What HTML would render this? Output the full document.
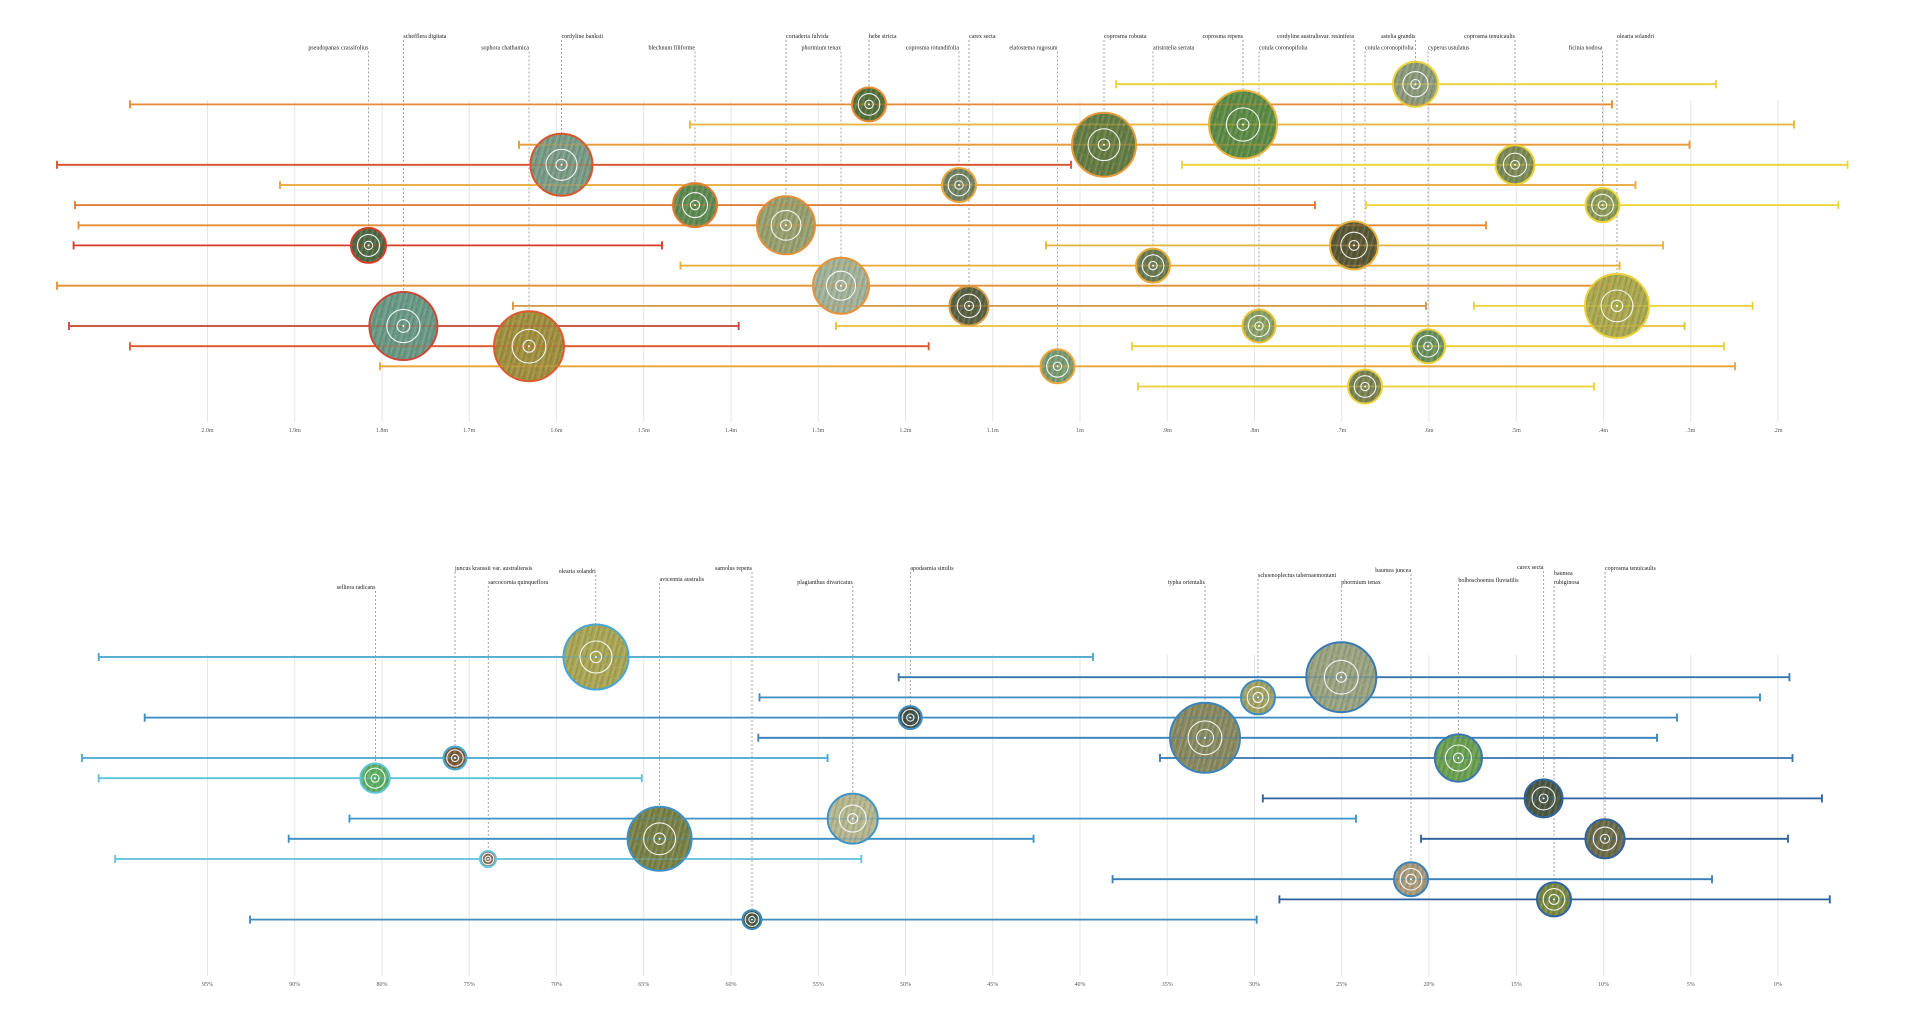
<!DOCTYPE html>
<html><head><meta charset="utf-8"><style>
html,body{margin:0;padding:0;background:#fff;}
svg{display:block;}
text{font-family:"Liberation Serif",serif;}
.lb{font-size:6px;fill:#222;}
.tk{font-size:6px;fill:#555;text-anchor:middle;}
</style></head><body>
<svg width="1920" height="1012" viewBox="0 0 1920 1012" xmlns="http://www.w3.org/2000/svg">
<defs>
<pattern id="tex" width="11" height="11" patternUnits="userSpaceOnUse" patternTransform="rotate(15)">
<path d="M2 0V11M7 1V8" stroke="#fff" stroke-opacity=".14" stroke-width="1"/>
<path d="M4.5 0V10M9.5 2V11" stroke="#000" stroke-opacity=".12" stroke-width="1.2"/>
</pattern>
</defs>
<rect width="1920" height="1012" fill="#fff"/>

<!-- gridlines -->
<g stroke="#e6e6e6" stroke-width="1">
<path d="M207.5 100V422M294.75 100V422M382 100V422M469.25 100V422M556.5 100V422M643.75 100V422M731 100V422M818.25 100V422M905.5 100V422M992.75 100V422M1080 100V422M1167.25 100V422M1254.5 100V422M1341.75 100V422M1429 100V422M1516.25 100V422M1603.5 100V422M1690.75 100V422M1778 100V422"/>
<path d="M207.5 655V976M294.75 655V976M382 655V976M469.25 655V976M556.5 655V976M643.75 655V976M731 655V976M818.25 655V976M905.5 655V976M992.75 655V976M1080 655V976M1167.25 655V976M1254.5 655V976M1341.75 655V976M1429 655V976M1516.25 655V976M1603.5 655V976M1690.75 655V976M1778 655V976"/>
</g>

<!-- tick labels -->
<g class="tk">
<text x="207.5" y="432">2.0m</text><text x="294.75" y="432">1.9m</text><text x="382" y="432">1.8m</text><text x="469.25" y="432">1.7m</text><text x="556.5" y="432">1.6m</text><text x="643.75" y="432">1.5m</text><text x="731" y="432">1.4m</text><text x="818.25" y="432">1.3m</text><text x="905.5" y="432">1.2m</text><text x="992.75" y="432">1.1m</text><text x="1080" y="432">1m</text><text x="1167.25" y="432">.9m</text><text x="1254.5" y="432">.8m</text><text x="1341.75" y="432">.7m</text><text x="1429" y="432">.6m</text><text x="1516.25" y="432">.5m</text><text x="1603.5" y="432">.4m</text><text x="1690.75" y="432">.3m</text><text x="1778" y="432">.2m</text>
<text x="207.5" y="986">95%</text><text x="294.75" y="986">90%</text><text x="382" y="986">80%</text><text x="469.25" y="986">75%</text><text x="556.5" y="986">70%</text><text x="643.75" y="986">65%</text><text x="731" y="986">60%</text><text x="818.25" y="986">55%</text><text x="905.5" y="986">50%</text><text x="992.75" y="986">45%</text><text x="1080" y="986">40%</text><text x="1167.25" y="986">35%</text><text x="1254.5" y="986">30%</text><text x="1341.75" y="986">25%</text><text x="1429" y="986">20%</text><text x="1516.25" y="986">15%</text><text x="1603.5" y="986">10%</text><text x="1690.75" y="986">5%</text><text x="1778" y="986">0%</text>
</g>

<!-- dotted leader lines -->
<g stroke="#9a9a9a" stroke-width="0.9" stroke-dasharray="2 2" fill="none">
<path d="M368.5 51.5V227.9M403.4 40V292M529 51.5V311.2M561.5 40V133.8M695 51.5V183.1M786 40V196.3M841 51.5V257.7M869 40V87.4M959 51.5V168M969 40V286.3M1057.5 51.5V349.3M1104 40V112.7M1153 51.5V248.6M1243 40V90.5M1259 51.5V309.5M1354 40V221.4M1365 51.5V369.5M1415.5 40V61.7M1428 51.5V329.2M1515 40V145.3M1602.5 51.5V188.1M1617 40V273.9"/>
<path d="M375.5 591V763.5M455 572V746.5M488.3 586V851M595.8 575V624.5M659.6 583V806.8M752 572V910.1M852.8 586V793.6M910.4 572V706.1M1205 586V702.8M1258 579V680.4M1341.3 586V642.2M1411 574V862.2M1458.4 584V734.4M1543.6 571V779.4M1554 586V882.4M1605 572V819.2"/>
</g>

<!-- labels top -->
<g class="lb">
<text x="368.5" y="49.5" text-anchor="end">pseudopanax crassifolius</text>
<text x="403.4" y="38">schefflera digitata</text>
<text x="529" y="49.5" text-anchor="end">sophora chathamica</text>
<text x="561.5" y="38">cordyline banksii</text>
<text x="695" y="49.5" text-anchor="end">blechnum filiforme</text>
<text x="786" y="38">cortaderia fulvida</text>
<text x="841" y="49.5" text-anchor="end">phormium tenax</text>
<text x="869" y="38">hebe stricta</text>
<text x="959" y="49.5" text-anchor="end">coprosma rotundifolia</text>
<text x="969" y="38">carex secta</text>
<text x="1057.5" y="49.5" text-anchor="end">elatostema rugosum</text>
<text x="1104" y="38">coprosma robusta</text>
<text x="1153" y="49.5">aristotelia serrata</text>
<text x="1243" y="38" text-anchor="end">coprosma repens</text>
<text x="1259" y="49.5">cotula coronopifolia</text>
<text x="1354" y="38" text-anchor="end">cordyline australisvar. resinifera</text>
<text x="1365" y="49.5">cotula coronopifolia</text>
<text x="1415.5" y="38" text-anchor="end">astelia grandis</text>
<text x="1428" y="49.5">cyperus ustulatus</text>
<text x="1515" y="38" text-anchor="end">coprosma tenuicaulis</text>
<text x="1602.5" y="49.5" text-anchor="end">ficinia nodosa</text>
<text x="1617" y="38">olearia solandri</text>
</g>
<!-- labels bottom -->
<g class="lb">
<text x="375.5" y="589" text-anchor="end">selliera radicans</text>
<text x="455" y="570">juncus kraussii var. australiensis</text>
<text x="488.3" y="584">sarcocornia quinqueflora</text>
<text x="595.8" y="573" text-anchor="end">olearia solandri</text>
<text x="659.6" y="581">avicennia australis</text>
<text x="752" y="570" text-anchor="end">samolus repens</text>
<text x="852.8" y="584" text-anchor="end">plagianthus divaricatus</text>
<text x="910.4" y="570">apodasmia similis</text>
<text x="1205" y="584" text-anchor="end">typha orientalis</text>
<text x="1258" y="577">schoenoplectus tabernaemontani</text>
<text x="1341.3" y="584">phormium tenax</text>
<text x="1411" y="572" text-anchor="end">baumea juncea</text>
<text x="1458.4" y="582">bolboschoenus fluviatilis</text>
<text x="1543.6" y="569" text-anchor="end">carex secta</text>
<text x="1554" y="575">baumea</text>
<text x="1554" y="584">rubiginosa</text>
<text x="1605" y="570">coprosma tenuicaulis</text>
</g>

<!-- range lines -->
<g id="lines" fill="none" stroke-width="1.8">
<path stroke="#ebd23c" d="M1116 80.2V88.2M1116 84.2H1716M1716 80.2V88.2"/>
<path stroke="#e68a36" d="M130 100.4V108.4M130 104.4H1612M1612 100.4V108.4"/>
<path stroke="#eab53d" d="M690 120.5V128.5M690 124.5H1794M1794 120.5V128.5"/>
<path stroke="#e79a38" d="M519 140.7V148.7M519 144.7H1689.5M1689.5 140.7V148.7"/>
<path stroke="#d9552c" d="M57 160.8V168.8M57 164.8H1071M1071 160.8V168.8"/>
<path stroke="#ecd43c" d="M1182 160.8V168.8M1182 164.8H1847.6M1847.6 160.8V168.8"/>
<path stroke="#e9a83b" d="M280 181V189M280 185H1635.5M1635.5 181V189"/>
<path stroke="#e17a31" d="M75 201.1V209.1M75 205.1H1315M1315 201.1V209.1"/>
<path stroke="#ecd63c" d="M1366 201.1V209.1M1366 205.1H1838.4M1838.4 201.1V209.1"/>
<path stroke="#e78f36" d="M78.5 221.3V229.3M78.5 225.3H1486M1486 221.3V229.3"/>
<path stroke="#d63d2a" d="M73.6 241.4V249.4M73.6 245.4H662M662 241.4V249.4"/>
<path stroke="#e8b43c" d="M1046 241.4V249.4M1046 245.4H1663M1663 241.4V249.4"/>
<path stroke="#e9ac3a" d="M680.4 261.6V269.6M680.4 265.6H1619.6M1619.6 261.6V269.6"/>
<path stroke="#e5923a" d="M57 281.7V289.7M57 285.7H1610M1610 281.7V289.7"/>
<path stroke="#d39a48" d="M513 301.9V309.9M513 305.9H1426M1426 301.9V309.9"/>
<path stroke="#ead23c" d="M1474 301.9V309.9M1474 305.9H1752.6M1752.6 301.9V309.9"/>
<path stroke="#c9483a" d="M69 322V330M69 326H738.7M738.7 322V330"/>
<path stroke="#e9c23e" d="M836 322V330M836 326H1684.6M1684.6 322V330"/>
<path stroke="#dc5a2e" d="M130 342.2V350.2M130 346.2H928.7M928.7 342.2V350.2"/>
<path stroke="#eacf3b" d="M1132 342.2V350.2M1132 346.2H1724M1724 342.2V350.2"/>
<path stroke="#eaa63c" d="M380 362.3V370.3M380 366.3H1735M1735 362.3V370.3"/>
<path stroke="#e9d23e" d="M1138 382.5V390.5M1138 386.5H1594M1594 382.5V390.5"/>

<path stroke="#4aa6d0" d="M98.7 653V661M98.7 657H1093M1093 653V661"/>
<path stroke="#3a7ab3" d="M898.7 673.2V681.2M898.7 677.2H1789.4M1789.4 673.2V681.2"/>
<path stroke="#3f8cc0" d="M759.5 693.4V701.4M759.5 697.4H1760M1760 693.4V701.4"/>
<path stroke="#3f8cc1" d="M144.7 713.6V721.6M144.7 717.6H1677M1677 713.6V721.6"/>
<path stroke="#3d84bb" d="M758.3 733.8V741.8M758.3 737.8H1657M1657 733.8V741.8"/>
<path stroke="#47abd2" d="M82 754V762M82 758H827.6M827.6 754V762"/>
<path stroke="#3a78b1" d="M1160 754V762M1160 758H1792.5M1792.5 754V762"/>
<path stroke="#62c3da" d="M98.7 774.2V782.2M98.7 778.2H641.8M641.8 774.2V782.2"/>
<path stroke="#2f65a0" d="M1262.8 794.4V802.4M1262.8 798.4H1821.9M1821.9 794.4V802.4"/>
<path stroke="#4193c5" d="M349.4 814.6V822.6M349.4 818.6H1356M1356 814.6V822.6"/>
<path stroke="#3f90c4" d="M288.7 834.8V842.8M288.7 838.8H1033.6M1033.6 834.8V842.8"/>
<path stroke="#32629c" d="M1421 834.8V842.8M1421 838.8H1788M1788 834.8V842.8"/>
<path stroke="#62c3da" d="M115.2 855V863M115.2 859H861.3M861.3 855V863"/>
<path stroke="#3a80b9" d="M1112.6 875.2V883.2M1112.6 879.2H1712M1712 875.2V883.2"/>
<path stroke="#2f63a0" d="M1279.4 895.4V903.4M1279.4 899.4H1829.8M1829.8 895.4V903.4"/>
<path stroke="#3d8dc1" d="M250 915.6V923.6M250 919.6H1256.7M1256.7 915.6V923.6"/>
</g>

<!-- circles -->
<g stroke-width="2">
<circle cx="1415.5" cy="84.2" r="22.5" fill="#8c9a7c" stroke="#ebd23c"/>
<circle cx="869" cy="104.4" r="17" fill="#55703c" stroke="#e68a36"/>
<circle cx="1243" cy="124.5" r="34" fill="#5e8c47" stroke="#eab53d"/>
<circle cx="1104" cy="144.7" r="32" fill="#667d45" stroke="#e79a38"/>
<circle cx="561.5" cy="164.8" r="31" fill="#7a9c86" stroke="#d9552c"/>
<circle cx="1515" cy="164.8" r="19.5" fill="#7c8a56" stroke="#ecd43c"/>
<circle cx="959" cy="185" r="17" fill="#728262" stroke="#e9a83b"/>
<circle cx="695" cy="205.1" r="22" fill="#5f8a52" stroke="#e17a31"/>
<circle cx="1602.5" cy="205.1" r="17" fill="#8c9a58" stroke="#ecd63c"/>
<circle cx="786" cy="225.3" r="29" fill="#98a070" stroke="#e78f36"/>
<circle cx="368.5" cy="245.4" r="17.5" fill="#4f6a45" stroke="#d63d2a"/>
<circle cx="1354" cy="245.4" r="24" fill="#5a5836" stroke="#e8b43c"/>
<circle cx="1153" cy="265.6" r="17" fill="#6c7a52" stroke="#e9ac3a"/>
<circle cx="841" cy="285.7" r="28" fill="#a2b29a" stroke="#e5923a"/>
<circle cx="969" cy="305.9" r="19.6" fill="#5a6244" stroke="#d39a48"/>
<circle cx="1617" cy="305.9" r="32" fill="#aaa850" stroke="#ead23c"/>
<circle cx="1259" cy="326" r="16.5" fill="#8aa062" stroke="#e9c23e"/>
<circle cx="403.4" cy="326" r="34" fill="#6a9a86" stroke="#c9483a"/>
<circle cx="1428" cy="346.2" r="17" fill="#6a905e" stroke="#eacf3b"/>
<circle cx="529" cy="346.2" r="35" fill="#a09040" stroke="#dc5a2e"/>
<circle cx="1057.5" cy="366.3" r="17" fill="#7a9a72" stroke="#eaa63c"/>
<circle cx="1365" cy="386.5" r="17" fill="#7a8252" stroke="#e9d23e"/>

<circle cx="596" cy="657" r="32.5" fill="#a9a656" stroke="#4aa6d0"/>
<circle cx="1341.3" cy="677.2" r="35" fill="#9aa482" stroke="#3a7ab3"/>
<circle cx="1258" cy="697.4" r="17" fill="#a2a264" stroke="#3f8cc0"/>
<circle cx="910.3" cy="717.6" r="11.5" fill="#3e4e44" stroke="#3f8cc1"/>
<circle cx="1205" cy="737.8" r="35" fill="#8a8a62" stroke="#3d84bb"/>
<circle cx="455" cy="758" r="11.5" fill="#7a5a3c" stroke="#47abd2"/>
<circle cx="1458.4" cy="758" r="23.6" fill="#6ca052" stroke="#3a78b1"/>
<circle cx="375" cy="778.2" r="14.7" fill="#5cae62" stroke="#62c3da"/>
<circle cx="1543.6" cy="798.4" r="19" fill="#4c5844" stroke="#2f65a0"/>
<circle cx="852.7" cy="818.6" r="25" fill="#b6b690" stroke="#4193c5"/>
<circle cx="659.6" cy="838.8" r="32" fill="#7a8248" stroke="#3f90c4"/>
<circle cx="1605" cy="838.8" r="19.6" fill="#6c6c4a" stroke="#32629c"/>
<circle cx="488" cy="859" r="8" fill="#8c6c5c" stroke="#62c3da"/>
<circle cx="1411" cy="879.2" r="17" fill="#a89a7a" stroke="#3a80b9"/>
<circle cx="1554" cy="899.4" r="17" fill="#7a8a42" stroke="#2f63a0"/>
<circle cx="752" cy="919.6" r="9.5" fill="#42523f" stroke="#3d8dc1"/>
</g>

<!-- texture overlay -->
<g fill="url(#tex)">
<circle cx="1415.5" cy="84.2" r="21.5"/><circle cx="869" cy="104.4" r="16"/><circle cx="1243" cy="124.5" r="33"/><circle cx="1104" cy="144.7" r="31"/><circle cx="561.5" cy="164.8" r="30"/><circle cx="1515" cy="164.8" r="18.5"/><circle cx="959" cy="185" r="16"/><circle cx="695" cy="205.1" r="21"/><circle cx="1602.5" cy="205.1" r="16"/><circle cx="786" cy="225.3" r="28"/><circle cx="368.5" cy="245.4" r="16.5"/><circle cx="1354" cy="245.4" r="23"/><circle cx="1153" cy="265.6" r="16"/><circle cx="841" cy="285.7" r="27"/><circle cx="969" cy="305.9" r="18.6"/><circle cx="1617" cy="305.9" r="31"/><circle cx="1259" cy="326" r="15.5"/><circle cx="403.4" cy="326" r="33"/><circle cx="1428" cy="346.2" r="16"/><circle cx="529" cy="346.2" r="34"/><circle cx="1057.5" cy="366.3" r="16"/><circle cx="1365" cy="386.5" r="16"/>
<circle cx="596" cy="657" r="31.5"/><circle cx="1341.3" cy="677.2" r="34"/><circle cx="1258" cy="697.4" r="16"/><circle cx="910.3" cy="717.6" r="10.5"/><circle cx="1205" cy="737.8" r="34"/><circle cx="455" cy="758" r="10.5"/><circle cx="1458.4" cy="758" r="22.6"/><circle cx="375" cy="778.2" r="13.7"/><circle cx="1543.6" cy="798.4" r="18"/><circle cx="852.7" cy="818.6" r="24"/><circle cx="659.6" cy="838.8" r="31"/><circle cx="1605" cy="838.8" r="18.6"/><circle cx="488" cy="859" r="7"/><circle cx="1411" cy="879.2" r="16"/><circle cx="1554" cy="899.4" r="16"/><circle cx="752" cy="919.6" r="8.5"/>
</g>

<!-- lines seen through circles -->
<use href="#lines" opacity="0.35"/>

<!-- white rings -->
<g fill="none" stroke="#fff" stroke-width="1.1" stroke-opacity="0.9">
<circle cx="1415.5" cy="84.2" r="12.6"/><circle cx="1415.5" cy="84.2" r="4.7"/>
<circle cx="869" cy="104.4" r="10.8"/><circle cx="869" cy="104.4" r="4.2"/>
<circle cx="1243" cy="124.5" r="16.6"/><circle cx="1243" cy="124.5" r="5.9"/>
<circle cx="1104" cy="144.7" r="15.9"/><circle cx="1104" cy="144.7" r="5.7"/>
<circle cx="561.5" cy="164.8" r="15.5"/><circle cx="561.5" cy="164.8" r="5.6"/>
<circle cx="1515" cy="164.8" r="11.6"/><circle cx="1515" cy="164.8" r="4.4"/>
<circle cx="959" cy="185" r="10.8"/><circle cx="959" cy="185" r="4.2"/>
<circle cx="695" cy="205.1" r="12.5"/><circle cx="695" cy="205.1" r="4.7"/>
<circle cx="1602.5" cy="205.1" r="10.8"/><circle cx="1602.5" cy="205.1" r="4.2"/>
<circle cx="786" cy="225.3" r="14.9"/><circle cx="786" cy="225.3" r="5.4"/>
<circle cx="368.5" cy="245.4" r="11"/><circle cx="368.5" cy="245.4" r="4.2"/>
<circle cx="1354" cy="245.4" r="13.2"/><circle cx="1354" cy="245.4" r="4.9"/>
<circle cx="1153" cy="265.6" r="10.8"/><circle cx="1153" cy="265.6" r="4.2"/>
<circle cx="841" cy="285.7" r="14.5"/><circle cx="841" cy="285.7" r="5.3"/>
<circle cx="969" cy="305.9" r="11.7"/><circle cx="969" cy="305.9" r="4.5"/>
<circle cx="1617" cy="305.9" r="15.9"/><circle cx="1617" cy="305.9" r="5.7"/>
<circle cx="1259" cy="326" r="10.6"/><circle cx="1259" cy="326" r="4.1"/>
<circle cx="403.4" cy="326" r="16.6"/><circle cx="403.4" cy="326" r="6.4"/>
<circle cx="1428" cy="346.2" r="10.8"/><circle cx="1428" cy="346.2" r="4.2"/>
<circle cx="529" cy="346.2" r="16.9"/><circle cx="529" cy="346.2" r="6"/>
<circle cx="1057.5" cy="366.3" r="10.8"/><circle cx="1057.5" cy="366.3" r="4.2"/>
<circle cx="1365" cy="386.5" r="10.8"/><circle cx="1365" cy="386.5" r="4.2"/>

<circle cx="596" cy="657" r="16"/><circle cx="596" cy="657" r="5.7"/>
<circle cx="1341.3" cy="677.2" r="16.9"/><circle cx="1341.3" cy="677.2" r="5"/>
<circle cx="1258" cy="697.4" r="10.8"/><circle cx="1258" cy="697.4" r="5"/>
<circle cx="910.3" cy="717.6" r="8.2"/><circle cx="910.3" cy="717.6" r="3.6"/>
<circle cx="1205" cy="737.8" r="16.9"/><circle cx="1205" cy="737.8" r="8.5"/>
<circle cx="455" cy="758" r="8.2"/><circle cx="455" cy="758" r="3.6"/>
<circle cx="1458.4" cy="758" r="13"/><circle cx="1458.4" cy="758" r="4.9"/>
<circle cx="375" cy="778.2" r="10"/><circle cx="375" cy="778.2" r="4"/>
<circle cx="1543.6" cy="798.4" r="11.5"/><circle cx="1543.6" cy="798.4" r="4.4"/>
<circle cx="852.7" cy="818.6" r="13.5"/><circle cx="852.7" cy="818.6" r="5"/>
<circle cx="659.6" cy="838.8" r="15.9"/><circle cx="659.6" cy="838.8" r="5.7"/>
<circle cx="1605" cy="838.8" r="11.7"/><circle cx="1605" cy="838.8" r="4.5"/>
<circle cx="488" cy="859" r="5.8"/><circle cx="488" cy="859" r="2.8"/>
<circle cx="1411" cy="879.2" r="10.8"/><circle cx="1411" cy="879.2" r="5"/>
<circle cx="1554" cy="899.4" r="10.8"/><circle cx="1554" cy="899.4" r="5"/>
<circle cx="752" cy="919.6" r="6.8"/><circle cx="752" cy="919.6" r="3.2"/>
</g>
<g fill="#fff">
<circle cx="1415.5" cy="84.2" r="1"/><circle cx="869" cy="104.4" r="1"/><circle cx="1243" cy="124.5" r="1"/><circle cx="1104" cy="144.7" r="1"/><circle cx="561.5" cy="164.8" r="1"/><circle cx="1515" cy="164.8" r="1"/><circle cx="959" cy="185" r="1"/><circle cx="695" cy="205.1" r="1"/><circle cx="1602.5" cy="205.1" r="1"/><circle cx="786" cy="225.3" r="1"/><circle cx="368.5" cy="245.4" r="1"/><circle cx="1354" cy="245.4" r="1"/><circle cx="1153" cy="265.6" r="1"/><circle cx="841" cy="285.7" r="1"/><circle cx="969" cy="305.9" r="1"/><circle cx="1617" cy="305.9" r="1"/><circle cx="1259" cy="326" r="1"/><circle cx="403.4" cy="326" r="1"/><circle cx="1428" cy="346.2" r="1"/><circle cx="529" cy="346.2" r="1"/><circle cx="1057.5" cy="366.3" r="1"/><circle cx="1365" cy="386.5" r="1"/>
<circle cx="596" cy="657" r="1"/><circle cx="1341.3" cy="677.2" r="1"/><circle cx="1258" cy="697.4" r="1"/><circle cx="910.3" cy="717.6" r="1"/><circle cx="1205" cy="737.8" r="1"/><circle cx="455" cy="758" r="1"/><circle cx="1458.4" cy="758" r="1"/><circle cx="375" cy="778.2" r="1"/><circle cx="1543.6" cy="798.4" r="1"/><circle cx="852.7" cy="818.6" r="1"/><circle cx="659.6" cy="838.8" r="1"/><circle cx="1605" cy="838.8" r="1"/><circle cx="488" cy="859" r="0.9"/><circle cx="1411" cy="879.2" r="1"/><circle cx="1554" cy="899.4" r="1"/><circle cx="752" cy="919.6" r="0.9"/>
</g>
</svg>
</body></html>
